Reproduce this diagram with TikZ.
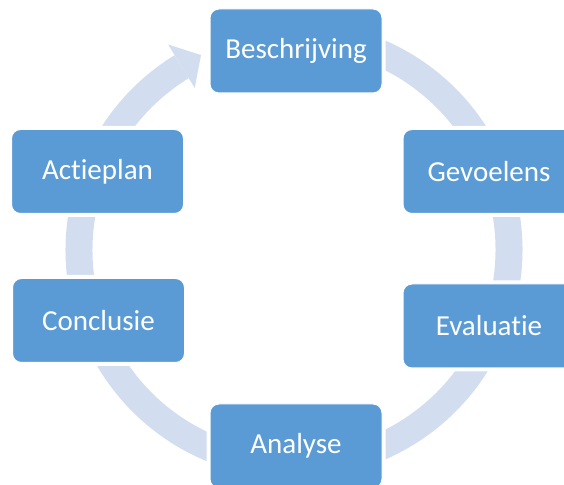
\documentclass[tikz,border=0pt]{standalone}
\usepackage{fontspec}
\setmainfont{Carlito}[Ligatures=NoCommon]
\definecolor{boxblue}{HTML}{5B9BD5}
\definecolor{ringblue}{HTML}{D2DEEF}
\begin{document}
\begin{tikzpicture}[x=1pt,y=1pt,
  stage/.style={rectangle, rounded corners=9pt, fill=boxblue, draw=white,
    line width=1pt, minimum width=172pt, minimum height=84pt, inner sep=0pt,
    text=white, font=\fontsize{29}{33}\selectfont,
    preaction={draw=white, line width=7pt}},
  ring/.style={draw=ringblue, line width=27pt}]
\useasboundingbox (0,0) rectangle (564,484);
\clip (0,0) rectangle (564,484);

% the cycle ring and its single arrowhead
\coordinate (c) at (294,234);
\draw[ring] (c) ++(121.5:215) arc[start angle=121.5, end angle=450, radius=215];
\path (c) ++(121.5:190) coordinate (barbIn)
      (c) ++(121.5:241) coordinate (barbOut)
      (c) ++(115.5:216) coordinate (tip);
\fill[ringblue] (barbIn) -- (tip) -- (barbOut) -- cycle;

% the six stages
\node[stage] (besch) at (296,433)   {Beschrijving};
\node[stage] (gevoel) at (489,312.5) {Gevoelens};
\node[stage] (eval) at (489,158)    {Evaluatie};
\node[stage] (anal) at (296,38)     {Analyse};
\node[stage] (concl) at (98.5,163.5) {Conclusie};
\node[stage] (actie) at (97.5,312.5) {Actieplan};
\end{tikzpicture}
\end{document}
